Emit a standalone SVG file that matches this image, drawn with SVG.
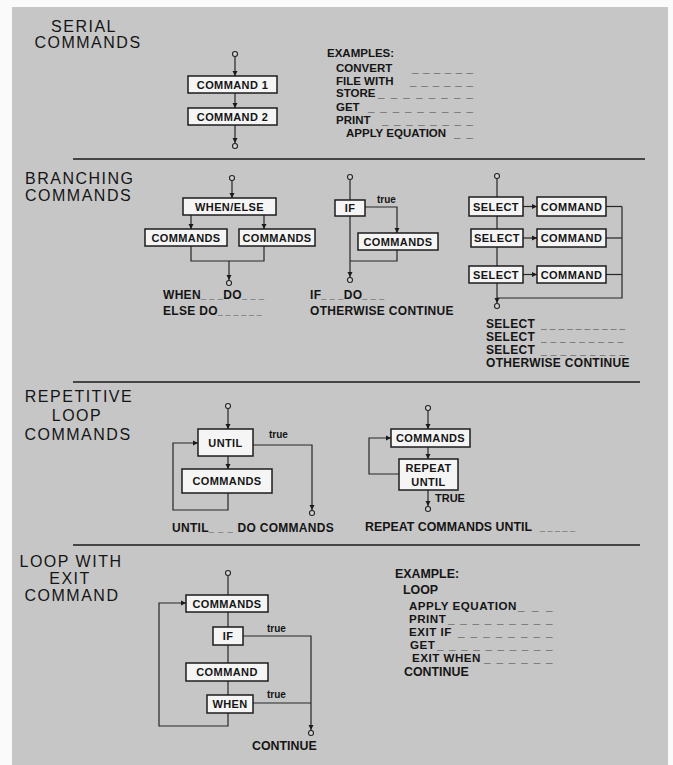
<svg xmlns="http://www.w3.org/2000/svg" width="673" height="765" viewBox="0 0 673 765">
<style>
.pg{fill:#c6c6c6}
.t{font-family:"Liberation Sans",Arial,sans-serif;font-size:16px;letter-spacing:1.5px;fill:#151515}
.tc{text-anchor:middle}
.l{font-family:"Liberation Sans",Arial,sans-serif;font-size:11px;font-weight:bold;fill:#151515}
.s{font-size:11.5px}
.e{font-size:12px;letter-spacing:0.3px}
.f{font-size:12.4px}
.g{font-size:11.6px;letter-spacing:0.5px}
.d8{font-size:9px;letter-spacing:0}
.d10{font-size:10px;letter-spacing:0}
.bl{text-anchor:middle;letter-spacing:0.4px}
.sm{font-family:"Liberation Sans",Arial,sans-serif;font-size:10px;font-weight:bold;fill:#151515}
.b{fill:#f5f5f5;stroke:#1c1c1c;stroke-width:1.5}
.c{fill:none;stroke:#262626;stroke-width:1.2}
.sep{stroke:#1a1a1a;stroke-width:1.5}
.o{fill:#d4d4d4;stroke:#222;stroke-width:1.1}
</style>
<defs>
<marker id="ar" markerUnits="userSpaceOnUse" markerWidth="6" markerHeight="6" refX="5" refY="3" orient="auto">
<path d="M0,0.5 L5,3 L0,5.5 z" fill="#1a1a1a"/>
</marker>
</defs>
<rect x="0" y="0" width="673" height="765" fill="#fafafa"/>
<rect class="pg" x="12" y="7" width="656" height="758"/>

<g id="separators">
<line class="sep" x1="73" y1="159" x2="645" y2="159"/>
<line class="sep" x1="73" y1="382" x2="640" y2="382"/>
<line class="sep" x1="73" y1="545" x2="640" y2="545"/>
</g>

<g id="titles">
<text class="t tc"><tspan x="84" y="32">SERIAL</tspan><tspan x="88" y="48">COMMANDS</tspan></text>
<text class="t"><tspan x="25" y="184">BRANCHING</tspan><tspan x="25" y="200.5">COMMANDS</tspan></text>
<text class="t tc"><tspan x="79" y="402">REPETITIVE</tspan><tspan x="77" y="421">LOOP</tspan><tspan x="78" y="440">COMMANDS</tspan></text>
<text class="t tc"><tspan x="71" y="567">LOOP WITH</tspan><tspan x="70" y="584">EXIT</tspan><tspan x="72" y="601">COMMAND</tspan></text>
</g>

<g id="connectors">
<circle class="o" cx="235" cy="54" r="2.5"/>
<line class="c" x1="235" y1="56.5" x2="235" y2="76" marker-end="url(#ar)"/>
<line class="c" x1="235" y1="93" x2="235" y2="108" marker-end="url(#ar)"/>
<line class="c" x1="235" y1="125" x2="235" y2="143" marker-end="url(#ar)"/>
<circle class="o" cx="235" cy="146" r="2.5"/>
<circle class="o" cx="232" cy="178" r="2.5"/>
<line class="c" x1="232" y1="180.5" x2="232" y2="198" marker-end="url(#ar)"/>
<line class="c" x1="191" y1="215" x2="191" y2="229" marker-end="url(#ar)"/>
<line class="c" x1="264" y1="215" x2="264" y2="229" marker-end="url(#ar)"/>
<path class="c" d="M191,246 V261 H264 V246"/>
<line class="c" x1="229" y1="261" x2="229" y2="280" marker-end="url(#ar)"/>
<circle class="o" cx="229" cy="283" r="2.5"/>
<circle class="o" cx="350" cy="177" r="2.5"/>
<line class="c" x1="350" y1="179.5" x2="350" y2="200"/>
<path class="c" d="M365,207 H397 V233" marker-end="url(#ar)"/>
<path class="c" d="M397,250 V261 H350"/>
<line class="c" x1="350" y1="216" x2="350" y2="277" marker-end="url(#ar)"/>
<circle class="o" cx="350" cy="280" r="2.5"/>
<text class="sm" x="377" y="203">true</text>
<circle class="o" cx="497" cy="176" r="2.5"/>
<line class="c" x1="497" y1="178.5" x2="497" y2="197"/>
<line class="c" x1="497" y1="216" x2="497" y2="229"/>
<line class="c" x1="497" y1="247" x2="497" y2="266"/>
<line class="c" x1="497" y1="283" x2="497" y2="303" marker-end="url(#ar)"/>
<circle class="o" cx="497" cy="306" r="2.5"/>
<line class="c" x1="523" y1="206.5" x2="537" y2="206.5" marker-end="url(#ar)"/>
<line class="c" x1="523" y1="238" x2="537" y2="238" marker-end="url(#ar)"/>
<line class="c" x1="523" y1="274.5" x2="537" y2="274.5" marker-end="url(#ar)"/>
<line class="c" x1="606" y1="206.5" x2="622" y2="206.5"/>
<line class="c" x1="606" y1="238" x2="622" y2="238"/>
<line class="c" x1="606" y1="274.5" x2="622" y2="274.5"/>
<path class="c" d="M622,206.5 V298 H497"/>
<circle class="o" cx="228" cy="406" r="2.5"/>
<line class="c" x1="228" y1="408.5" x2="228" y2="429" marker-end="url(#ar)"/>
<line class="c" x1="228" y1="456" x2="228" y2="469" marker-end="url(#ar)"/>
<path class="c" d="M228,493 V510 H173 V443 H198" marker-end="url(#ar)"/>
<path class="c" d="M253,445 H312 V510" marker-end="url(#ar)"/>
<circle class="o" cx="312" cy="513" r="2.5"/>
<text class="sm" x="269" y="438">true</text>
<circle class="o" cx="428" cy="408" r="2.5"/>
<line class="c" x1="428" y1="410.5" x2="428" y2="429" marker-end="url(#ar)"/>
<line class="c" x1="428" y1="447" x2="428" y2="459" marker-end="url(#ar)"/>
<path class="c" d="M399,474 H369 V438 H391" marker-end="url(#ar)"/>
<line class="c" x1="428" y1="490" x2="428" y2="506" marker-end="url(#ar)"/>
<circle class="o" cx="428" cy="509" r="2.5"/>
<text class="l" x="435" y="502">TRUE</text>
<circle class="o" cx="228" cy="573" r="2.5"/>
<line class="c" x1="228" y1="575.5" x2="228" y2="595"/>
<line class="c" x1="228" y1="612" x2="228" y2="627"/>
<line class="c" x1="228" y1="645" x2="228" y2="663"/>
<line class="c" x1="228" y1="681" x2="228" y2="695"/>
<path class="c" d="M228,713 V726 H159 V603 H186" marker-end="url(#ar)"/>
<path class="c" d="M243,636 H311 V730" marker-end="url(#ar)"/>
<line class="c" x1="253" y1="703" x2="311" y2="703"/>
<circle class="o" cx="311" cy="733" r="2.5"/>
<text class="sm" x="267" y="632">true</text>
<text class="sm" x="267" y="698">true</text>
</g>

<g id="command1"><rect class="b" x="188" y="76" width="89" height="17"/><text class="l bl" x="232.5" y="88.5">COMMAND 1</text></g>
<g id="command2"><rect class="b" x="188" y="108" width="89" height="17"/><text class="l bl" x="232.5" y="120.5">COMMAND 2</text></g>

<g id="whenelse"><rect class="b" x="183" y="198" width="93" height="17"/><text class="l bl" x="229.5" y="210.5" letter-spacing="0.9">WHEN/ELSE</text></g>
<g id="commandsL"><rect class="b" x="145" y="229" width="82" height="17"/><text class="l bl" x="186" y="241.5">COMMANDS</text></g>
<g id="commandsR"><rect class="b" x="239" y="229" width="76" height="17"/><text class="l bl" x="277" y="241.5">COMMANDS</text></g>

<g id="if1"><rect class="b" x="335" y="200" width="30" height="16"/><text class="l bl" x="350" y="212">IF</text></g>
<g id="commandsIf"><rect class="b" x="358" y="233" width="80" height="17"/><text class="l bl" x="398" y="245.5">COMMANDS</text></g>

<g id="select1"><rect class="b" x="469" y="197" width="54" height="19"/><text class="l bl" x="496" y="210.5">SELECT</text></g>
<g id="cmdS1"><rect class="b" x="537" y="197" width="69" height="19"/><text class="l bl" x="571.5" y="210.5">COMMAND</text></g>
<g id="select2"><rect class="b" x="471" y="229" width="52" height="18"/><text class="l bl" x="497" y="242">SELECT</text></g>
<g id="cmdS2"><rect class="b" x="537" y="229" width="69" height="18"/><text class="l bl" x="571.5" y="242">COMMAND</text></g>
<g id="select3"><rect class="b" x="469" y="266" width="54" height="17"/><text class="l bl" x="496" y="278.5">SELECT</text></g>
<g id="cmdS3"><rect class="b" x="537" y="266" width="69" height="17"/><text class="l bl" x="571.5" y="278.5">COMMAND</text></g>

<g id="until"><rect class="b" x="198" y="429" width="55" height="27"/><text class="l bl" x="225.5" y="446.5">UNTIL</text></g>
<g id="commandsUntil"><rect class="b" x="182" y="469" width="90" height="24"/><text class="l bl" x="227" y="485">COMMANDS</text></g>

<g id="commandsRepeat"><rect class="b" x="391" y="429" width="79" height="18"/><text class="l bl" x="430.5" y="442">COMMANDS</text></g>
<g id="repeatUntil"><rect class="b" x="399" y="459" width="59" height="31"/><text class="l bl" x="428.5" y="472">REPEAT</text><text class="l bl" x="428.5" y="486">UNTIL</text></g>

<g id="commandsLoop"><rect class="b" x="186" y="595" width="82" height="17"/><text class="l bl" x="227" y="607.5">COMMANDS</text></g>
<g id="ifLoop"><rect class="b" x="213" y="627" width="30" height="18"/><text class="l bl" x="228" y="640">IF</text></g>
<g id="commandLoop"><rect class="b" x="186" y="663" width="82" height="18"/><text class="l bl" x="227" y="676">COMMAND</text></g>
<g id="whenLoop"><rect class="b" x="207" y="695" width="46" height="18"/><text class="l bl" x="230" y="708">WHEN</text></g>

<g id="serialExamples">
<text class="l s" x="327" y="57">EXAMPLES:</text>
<text class="l s" x="336" y="72">CONVERT<tspan x="412" textLength="61" lengthAdjust="spacing">_ _ _ _ _ _</tspan></text>
<text class="l s" x="336" y="85">FILE WITH<tspan x="410" textLength="63" lengthAdjust="spacing">_ _ _ _ _ _</tspan></text>
<text class="l s" x="336" y="97">STORE<tspan x="378" textLength="95" lengthAdjust="spacing">_ _ _ _ _ _ _ _</tspan></text>
<text class="l s" x="336" y="111">GET<tspan x="368" textLength="105" lengthAdjust="spacing">_ _ _ _ _ _ _ _ _</tspan></text>
<text class="l s" x="336" y="124">PRINT<tspan x="382" textLength="91" lengthAdjust="spacing">_ _ _ _ _ _ _ _</tspan></text>
<text class="l s" x="346" y="137">APPLY EQUATION<tspan x="454" textLength="19" lengthAdjust="spacing">_ _</tspan></text>
</g>

<g id="branchExamples">
<text class="l e" x="163" y="299">WHEN<tspan class="d8" textLength="22" lengthAdjust="spacing">_ _ _</tspan>DO<tspan class="d8" textLength="22" lengthAdjust="spacing">_ _ _</tspan></text>
<text class="l e" x="163" y="315">ELSE DO<tspan class="d8" textLength="44" lengthAdjust="spacing">_ _ _ _ _ _</tspan></text>
<text class="l e" x="310" y="299">IF<tspan class="d8" textLength="22" lengthAdjust="spacing">_ _ _</tspan>DO<tspan class="d8" textLength="22" lengthAdjust="spacing">_ _ _</tspan></text>
<text class="l e" x="310" y="315">OTHERWISE CONTINUE</text>
<text class="l e" x="486" y="328">SELECT<tspan class="d10" x="541" textLength="84" lengthAdjust="spacing">_ _ _ _ _ _ _ _ _ _</tspan></text>
<text class="l e" x="486" y="341">SELECT<tspan class="d10" x="541" textLength="82" lengthAdjust="spacing">_ _ _ _ _ _ _ _ _</tspan></text>
<text class="l e" x="486" y="354">SELECT<tspan class="d10" x="541" textLength="84" lengthAdjust="spacing">_ _ _ _ _ _ _ _ _</tspan></text>
<text class="l e" x="486" y="367">OTHERWISE CONTINUE</text>
</g>

<g id="loopExamples">
<text class="l e" x="172" y="532">UNTIL<tspan class="d8" textLength="24" lengthAdjust="spacing">_ _ _</tspan> DO COMMANDS</text>
<text class="l f" x="365" y="531">REPEAT COMMANDS UNTIL<tspan class="d8" x="540" textLength="35" lengthAdjust="spacing">_ _ _ _ _</tspan></text>
<text class="l f" x="252" y="750">CONTINUE</text>
</g>

<g id="exitExamples">
<text class="l f" x="395" y="578">EXAMPLE:</text>
<text class="l f" x="403" y="594">LOOP</text>
<text class="l g" x="409" y="610">APPLY EQUATION<tspan x="518" textLength="35" lengthAdjust="spacing">_ _ _</tspan></text>
<text class="l g" x="409" y="623">PRINT<tspan x="448" textLength="105" lengthAdjust="spacing">_ _ _ _ _ _ _ _ _</tspan></text>
<text class="l g" x="409" y="636">EXIT IF<tspan x="458" textLength="95" lengthAdjust="spacing">_ _ _ _ _ _ _ _</tspan></text>
<text class="l g" x="410" y="649">GET<tspan x="437" textLength="116" lengthAdjust="spacing">_ _ _ _ _ _ _ _ _ _</tspan></text>
<text class="l g" x="412" y="662">EXIT WHEN<tspan x="484" textLength="69" lengthAdjust="spacing">_ _ _ _ _ _</tspan></text>
<text class="l f" x="404" y="676">CONTINUE</text>
</g>
</svg>
